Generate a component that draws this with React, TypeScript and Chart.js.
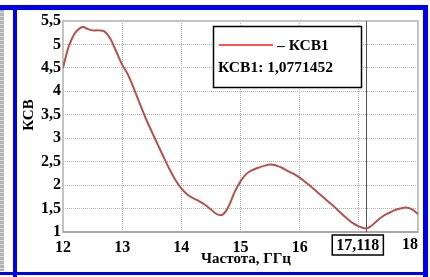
import React, { useEffect, useRef } from "react";
import { Chart, registerables } from "chart.js";

Chart.register(...registerables);

const freq = [12.0, 12.05, 12.1, 12.2, 12.3, 12.35, 12.4, 12.5, 12.6, 12.7, 12.8, 12.9, 13.0, 13.1, 13.2, 13.3, 13.4, 13.5, 13.6, 13.7, 13.8, 13.9, 14.0, 14.1, 14.2, 14.3, 14.4, 14.5, 14.6, 14.7, 14.8, 14.9, 15.0, 15.1, 15.2, 15.3, 15.4, 15.5, 15.6, 15.7, 15.8, 15.9, 16.0, 16.1, 16.2, 16.3, 16.4, 16.5, 16.6, 16.7, 16.8, 16.9, 17.0, 17.118, 17.2, 17.3, 17.4, 17.5, 17.6, 17.7, 17.8, 17.9, 18.0];
const vswr = [4.5, 4.75, 4.97, 5.24, 5.36, 5.37, 5.34, 5.3, 5.3, 5.28, 5.12, 4.85, 4.57, 4.35, 4.05, 3.73, 3.42, 3.14, 2.87, 2.6, 2.34, 2.11, 1.93, 1.8, 1.72, 1.66, 1.58, 1.48, 1.38, 1.37, 1.55, 1.85, 2.08, 2.24, 2.32, 2.37, 2.41, 2.44, 2.42, 2.37, 2.3, 2.24, 2.16, 2.06, 1.96, 1.85, 1.74, 1.63, 1.52, 1.4, 1.29, 1.19, 1.12, 1.077, 1.12, 1.23, 1.33, 1.4, 1.46, 1.5, 1.52, 1.48, 1.38];

const seriesName = "КСВ1";
const markerFreq = 17.118;
const markerLabel = "17,118";
const markerReadout = "КСВ1: 1,0771452";
const xTitle = "Частота, ГГц";
const yTitle = "КСВ";
const xMax = 18;

const SERIF = '"Liberation Serif", "Times New Roman", serif';

const framePlugin = {
  id: "frame",
  beforeDraw(chart: any) {
    const ctx = chart.ctx;
    ctx.save();
    ctx.fillStyle = "#ffffff";
    ctx.fillRect(0, 0, chart.width, chart.height);
    ctx.fillStyle = "#b4b4b4";
    ctx.fillRect(0, 10, 4, 261);
    ctx.fillStyle = "#d8d8d8";
    for (let y = 12; y < 270; y += 4) ctx.fillRect(0, y, 4, 1);
    ctx.fillStyle = "#0000f0";
    ctx.fillRect(0, 5, 428, 5);
    ctx.fillRect(13, 5, 4, 272);
    ctx.fillRect(423, 5, 5, 272);
    ctx.fillRect(0, 272, 428, 3);
    ctx.restore();
  },
  beforeDatasetsDraw(chart: any) {
    const { ctx, chartArea: a, scales } = chart;
    ctx.save();
    ctx.strokeStyle = "#c4c4c4";
    ctx.lineWidth = 2;
    ctx.strokeRect(a.left, a.top, a.right - a.left, a.bottom - a.top);
    ctx.strokeStyle = "#a8a8a8";
    ctx.beginPath();
    ctx.moveTo(a.left, a.bottom);
    ctx.lineTo(a.right, a.bottom);
    ctx.stroke();
    const mx = scales.x.getPixelForValue(markerFreq);
    ctx.strokeStyle = "#555555";
    ctx.lineWidth = 1;
    ctx.beginPath();
    ctx.moveTo(Math.round(mx) + 0.5, a.top);
    ctx.lineTo(Math.round(mx) + 0.5, a.bottom);
    ctx.stroke();
    ctx.restore();
  },
  afterDraw(chart: any) {
    const { ctx, scales } = chart;
    ctx.save();
    ctx.fillStyle = "#000";
    ctx.font = `bold 15px ${SERIF}`;
    ctx.textAlign = "center";
    ctx.textBaseline = "middle";
    ctx.save();
    ctx.translate(29, 115);
    ctx.rotate(-Math.PI / 2);
    ctx.fillText(yTitle, 0, 0);
    ctx.restore();
    ctx.font = `bold 15px ${SERIF}`;
    ctx.fillText(xTitle, 246, 259);
    ctx.font = `bold 16px ${SERIF}`;
    ctx.textAlign = "right";
    ctx.fillText(String(xMax), scales.x.getPixelForValue(xMax), 245);
    ctx.textAlign = "center";
    const mx = scales.x.getPixelForValue(markerFreq);
    const w = ctx.measureText(markerLabel).width;
    const cx = mx - 8;
    ctx.fillStyle = "#fff";
    ctx.fillRect(cx - w / 2 - 4, 235, w + 8, 20);
    ctx.strokeStyle = "#000";
    ctx.lineWidth = 1.5;
    ctx.strokeRect(cx - w / 2 - 4, 235, w + 8, 20);
    ctx.fillStyle = "#000";
    ctx.fillText(markerLabel, cx, 246);
    ctx.fillStyle = "#fff";
    ctx.fillRect(213, 26, 149, 61);
    ctx.strokeStyle = "#000";
    ctx.lineWidth = 1.5;
    ctx.strokeRect(213.5, 26.5, 148, 61);
    ctx.strokeStyle = "#ff1a1a";
    ctx.lineWidth = 1.5;
    ctx.beginPath();
    ctx.moveTo(219, 45);
    ctx.lineTo(273, 45);
    ctx.stroke();
    ctx.fillStyle = "#000";
    ctx.font = `bold 15.5px ${SERIF}`;
    ctx.textAlign = "left";
    ctx.fillText("– " + seriesName, 277, 46);
    ctx.fillText(markerReadout, 218, 68);
    ctx.restore();
  },
};

export default function App() {
  const ref = useRef<HTMLCanvasElement>(null);
  useEffect(() => {
    const canvas = ref.current;
    if (!canvas) return;
    const chart = new Chart(canvas, {
      type: "line",
      data: {
        datasets: [
          {
            label: seriesName,
            data: freq.map((f, i) => ({ x: f, y: vswr[i] })),
            borderColor: "#b3534c",
            borderWidth: 2,
            pointRadius: 0,
            tension: 0.4,
            fill: false,
          },
        ],
      },
      options: {
        animation: false,
        responsive: false,
        maintainAspectRatio: false,
        layout: { padding: { left: 0, top: 21, right: 12, bottom: 0 } },
        plugins: { legend: { display: false }, tooltip: { enabled: false } },
        scales: {
          x: {
            type: "linear",
            min: 12,
            max: xMax,
            afterFit(s: any) {
              s.height = 45;
            },
            ticks: {
              stepSize: 1,
              padding: 6,
              color: "#000",
              font: { family: SERIF, size: 16, weight: "bold" },
              callback: (v: any) => (Math.abs(v - 17) < 1e-9 || Math.abs(v - xMax) < 1e-9 ? "" : String(v)),
            },
            grid: { color: "#b0b0b0", lineWidth: 1, drawTicks: false },
            border: { display: false, dash: [1, 1] },
          },
          y: {
            type: "linear",
            min: 1,
            max: 5.5,
            afterFit(s: any) {
              s.width = 63;
            },
            ticks: {
              stepSize: 0.5,
              padding: 2,
              color: "#000",
              font: { family: SERIF, size: 16, weight: "bold" },
              callback: (v: any) => String(v).replace(".", ","),
            },
            grid: { color: "#b0b0b0", lineWidth: 1, drawTicks: false },
            border: { display: false, dash: [1, 1] },
          },
        },
      },
      plugins: [framePlugin],
    });
    return () => chart.destroy();
  }, []);
  return (
    <div style={{ position: "fixed", left: 0, top: 0, width: 430, height: 277 }}>
      <canvas ref={ref} width={430} height={277} style={{ width: 430, height: 277, display: "block" }} />
    </div>
  );
}
